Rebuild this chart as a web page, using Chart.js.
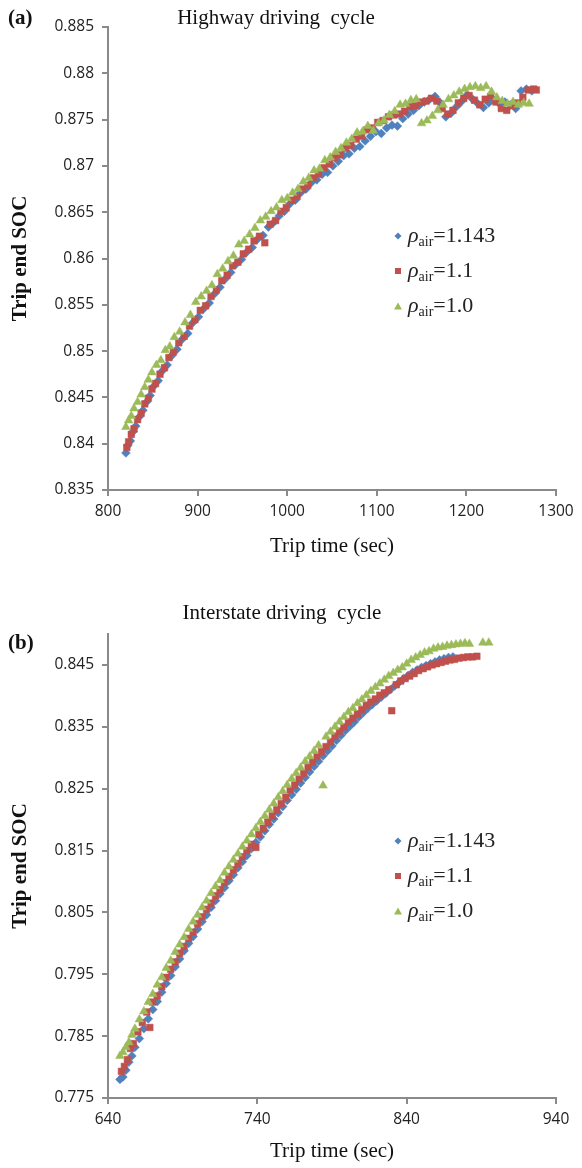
<!DOCTYPE html>
<html><head><meta charset="utf-8">
<script src="https://cdn.jsdelivr.net/npm/chart.js@4.4.0/dist/chart.umd.min.js"></script>
<style>
html,body{margin:0;padding:0;background:#fff;}
#wrap{position:relative;width:582px;height:1168px;overflow:hidden;background:#fff;}
canvas{position:absolute;left:0;}
.lbl{position:absolute;font-family:"Liberation Serif","DejaVu Serif",serif;color:#111;white-space:nowrap;line-height:1;}
.title{font-size:21px;transform:translate(-50%,-50%);}
.panel{font-weight:bold;font-size:21px;transform:translateY(-50%);}
.leg{position:absolute;font-family:"Liberation Serif",serif;font-size:22px;color:#222;white-space:nowrap;transform:translateY(-50%);line-height:1;}
.leg i{font-style:italic;}
.leg sub{font-size:14px;vertical-align:-4px;font-style:normal;}
.mk{position:absolute;transform:translate(-50%,-50%);}
.dia{width:5px;height:5px;background:#4F81BD;transform:translate(-50%,-50%) rotate(45deg);}
.sq{width:6px;height:6px;background:#C0504D;}
.tri{width:0;height:0;border-left:4px solid transparent;border-right:4px solid transparent;border-bottom:7px solid #9BBB59;}
</style>
</head><body>
<div id="wrap">
<canvas id="c1" width="582" height="584" style="top:0"></canvas>
<canvas id="c2" width="582" height="584" style="top:584px"></canvas>
<div class="lbl panel" style="left:8px;top:17px">(a)</div>
<div class="lbl title" style="left:276px;top:17px">Highway driving&nbsp; cycle</div>
<div class="lbl panel" style="left:8px;top:642px">(b)</div>
<div class="lbl title" style="left:282px;top:612px">Interstate driving&nbsp; cycle</div>
<div id="leg1"></div>
<div id="leg2"></div>
</div>
<script>
// ---------- data ----------
const seriesNames = ['1.143', '1.1', '1.0'];
const seriesColors = ['#4F81BD', '#C0504D', '#9BBB59'];

// (a) Highway driving cycle : [trip time (s), trip end SOC]
const hwBlue = [[820,.8390],[822,.8398],[825,.8403],[828,.8413],[831,.8419],[835,.8429],[839,.8436],[843,.8445],[847,.8452],[851,.8462],[856,.8468],[861,.8479],[866,.8485],[871,.8495],[877,.8502],[883,.8513],[889,.8519],[895,.8531],[901,.8537],[907,.8546],[913,.8552],[919,.8562],[925,.8569],[931,.8578],[937,.8585],[943,.8594],[949,.8599],[955,.8607],[961,.8612],[967,.8621],[973,.8625],[979,.8634],[985,.8639],[991,.8646],[997,.8651],[1003,.8659],[1009,.8663],[1015,.8671],[1021,.8675],[1027,.8682],[1033,.8685],[1039,.8691],[1045,.8693],[1051,.8700],[1057,.8705],[1063,.8711],[1069,.8713],[1075,.8719],[1081,.8721],[1087,.8727],[1093,.8732],[1099,.8737],[1105,.8735],[1111,.8741],[1117,.8744],[1123,.8743],[1129,.8751],[1135,.8756],[1141,.8760],[1147,.8765],[1153,.8769],[1159,.8772],[1165,.8775],[1171,.8768],[1177,.8753],[1183,.8757],[1189,.8764],[1195,.8770],[1201,.8777],[1207,.8772],[1213,.8767],[1219,.8763],[1225,.8768],[1231,.8771],[1237,.8767],[1243,.8769],[1249,.8766],[1255,.8762],[1261,.8781],[1267,.8783],[1273,.8781]];
const hwRed = [[821,.8396],[823,.8402],[826,.8410],[829,.8416],[833,.8426],[837,.8433],[841,.8443],[845,.8449],[849,.8459],[853,.8465],[858,.8475],[863,.8482],[868,.8493],[873,.8499],[879,.8509],[885,.8516],[891,.8527],[897,.8534],[903,.8544],[909,.8549],[915,.8559],[921,.8566],[927,.8576],[933,.8582],[939,.8592],[945,.8596],[951,.8605],[957,.8610],[963,.8619],[969,.8624],[975,.8617],[981,.8637],[987,.8641],[993,.8651],[999,.8655],[1005,.8663],[1011,.8667],[1017,.8675],[1023,.8679],[1029,.8687],[1035,.8691],[1041,.8698],[1047,.8702],[1053,.8709],[1059,.8712],[1065,.8719],[1071,.8722],[1077,.8729],[1083,.8732],[1089,.8739],[1095,.8741],[1101,.8747],[1107,.8749],[1113,.8753],[1119,.8755],[1125,.8756],[1131,.8759],[1137,.8764],[1143,.8765],[1149,.8769],[1155,.8770],[1161,.8773],[1167,.8770],[1173,.8762],[1179,.8756],[1185,.8760],[1191,.8768],[1197,.8773],[1203,.8776],[1209,.8771],[1215,.8766],[1221,.8772],[1227,.8775],[1233,.8769],[1239,.8762],[1245,.8760],[1251,.8765],[1257,.8768],[1263,.8774],[1269,.8782],[1275,.8783],[1278,.8782]];
const hwGreen = [[820,.8418],[823,.8425],[826,.8430],[829,.8438],[833,.8445],[837,.8453],[841,.8461],[845,.8469],[849,.8477],[854,.8485],[859,.8490],[864,.8501],[869,.8505],[874,.8515],[880,.8521],[886,.8531],[892,.8539],[898,.8553],[904,.8559],[910,.8565],[916,.8571],[922,.8583],[928,.8589],[934,.8597],[940,.8603],[946,.8615],[952,.8619],[958,.8626],[964,.8633],[970,.8641],[976,.8645],[982,.8651],[988,.8655],[994,.8663],[1000,.8665],[1006,.8671],[1012,.8675],[1018,.8683],[1024,.8687],[1030,.8695],[1036,.8697],[1042,.8706],[1048,.8709],[1054,.8715],[1060,.8719],[1066,.8725],[1072,.8729],[1078,.8736],[1084,.8737],[1090,.8743],[1096,.8738],[1102,.8746],[1108,.8749],[1114,.8755],[1120,.8759],[1126,.8766],[1132,.8767],[1138,.8771],[1144,.8772],[1150,.8746],[1156,.8749],[1162,.8754],[1168,.8760],[1174,.8766],[1180,.8772],[1186,.8776],[1192,.8780],[1198,.8783],[1204,.8785],[1210,.8786],[1216,.8784],[1222,.8786],[1228,.8780],[1234,.8774],[1240,.8770],[1246,.8767],[1252,.8769],[1258,.8766],[1264,.8768],[1270,.8767]];
const hwXTicks = [800, 900, 1000, 1100, 1200, 1300];
const hwXLabels = ['800', '900', '1000', '1100', '1200', '1300'];
const hwYTicks = [0.835, 0.84, 0.845, 0.85, 0.855, 0.86, 0.865, 0.87, 0.875, 0.88, 0.885];
const hwYLabels = ['0.835', '0.84', '0.845', '0.85', '0.855', '0.86', '0.865', '0.87', '0.875', '0.88', '0.885'];

// (b) Interstate driving cycle : [trip time (s), trip end SOC]
const isBlue = [[648,.7780],[650,.7784],[652,.7795],[654,.7808],[656,.7818],[658,.7832],[661,.7846],[664,.7862],[667,.7878],[670,.7893],[673,.7906],[676,.7921],[679,.7935],[682,.7948],[685,.7962],[688,.7975],[691,.7988],[694,.8000],[697,.8011],[700,.8023],[703,.8035],[706,.8046],[709,.8058],[712,.8069],[715,.8080],[718,.8090],[721,.8101],[724,.8111],[727,.8122],[730,.8132],[733,.8142],[736,.8153],[739,.8163],[742,.8172],[745,.8182],[748,.8192],[751,.8201],[754,.8211],[757,.8221],[760,.8231],[763,.8240],[766,.8249],[769,.8259],[772,.8268],[775,.8277],[778,.8286],[781,.8294],[784,.8303],[787,.8311],[790,.8319],[793,.8328],[796,.8336],[799,.8344],[802,.8351],[805,.8358],[808,.8366],[811,.8373],[814,.8380],[817,.8386],[820,.8392],[823,.8398],[826,.8404],[829,.8410],[832,.8416],[835,.8422],[838,.8428],[841,.8433],[844,.8438],[847,.8442],[850,.8446],[853,.8449],[856,.8452],[859,.8455],[862,.8458],[865,.8460],[868,.8462],[871,.8463]];
const isRed = [[649,.7793],[651,.7801],[653,.7812],[655,.7830],[657,.7838],[660,.7857],[663,.7872],[666,.7889],[668,.7864],[670,.7905],[673,.7915],[676,.7930],[679,.7945],[682,.7958],[685,.7970],[688,.7984],[691,.7995],[694,.8008],[697,.8018],[700,.8032],[703,.8043],[706,.8055],[709,.8065],[712,.8077],[715,.8087],[718,.8098],[721,.8108],[724,.8119],[727,.8129],[730,.8140],[733,.8150],[736,.8160],[739,.8155],[741,.8176],[744,.8186],[747,.8196],[750,.8206],[753,.8216],[756,.8226],[759,.8236],[762,.8248],[765,.8256],[768,.8266],[771,.8275],[774,.8285],[777,.8293],[780,.8302],[783,.8310],[786,.8318],[789,.8326],[792,.8335],[795,.8343],[798,.8350],[801,.8358],[804,.8364],[807,.8371],[810,.8378],[813,.8385],[816,.8390],[819,.8395],[822,.8401],[825,.8405],[828,.8410],[830,.8376],[833,.8418],[836,.8424],[839,.8428],[842,.8432],[845,.8436],[848,.8441],[851,.8444],[854,.8447],[857,.8450],[860,.8452],[863,.8454],[866,.8456],[869,.8458],[872,.8459],[875,.8461],[878,.8462],[881,.8463],[884,.8463],[887,.8464]];
const isGreen = [[648,.7818],[650,.7824],[652,.7832],[654,.7840],[656,.7852],[658,.7862],[661,.7877],[664,.7890],[667,.7905],[670,.7918],[673,.7933],[676,.7945],[679,.7960],[682,.7972],[685,.7986],[688,.7998],[691,.8010],[694,.8023],[697,.8035],[700,.8046],[703,.8058],[706,.8069],[709,.8081],[712,.8092],[715,.8102],[718,.8114],[721,.8124],[724,.8135],[727,.8145],[730,.8156],[733,.8166],[736,.8176],[739,.8186],[742,.8196],[745,.8206],[748,.8216],[751,.8226],[754,.8236],[757,.8246],[760,.8256],[763,.8266],[766,.8275],[769,.8284],[772,.8294],[775,.8302],[778,.8311],[781,.8320],[784,.8255],[786,.8334],[789,.8342],[792,.8350],[795,.8358],[798,.8366],[801,.8374],[804,.8380],[807,.8388],[810,.8394],[813,.8401],[816,.8408],[819,.8414],[822,.8420],[825,.8426],[828,.8432],[831,.8437],[834,.8442],[837,.8446],[840,.8452],[843,.8458],[846,.8462],[849,.8466],[852,.8470],[855,.8472],[858,.8476],[861,.8478],[864,.8479],[867,.8481],[870,.8482],[873,.8483],[876,.8484],[879,.8485],[882,.8484],[891,.8486],[895,.8486]];
const isXTicks = [640, 740, 840, 940];
const isXLabels = ['640', '740', '840', '940'];
const isYTicks = [0.775, 0.785, 0.795, 0.805, 0.815, 0.825, 0.835, 0.845];
const isYLabels = ['0.775', '0.785', '0.795', '0.805', '0.815', '0.825', '0.835', '0.845'];

// ---------- chart ----------
const AX = '#8a8a8a';
const styles = ['rectRot', 'rect', 'triangle'];
const radii = [4.4, 4.7, 5];
function toPts(a){ return a.map(p => ({x:p[0], y:p[1]})); }
function makeChart(id, series, xr, yr, xT, xL, yT, yL, padTop, xH, xTitlePad){
  const datasets = series.map((s,i) => ({
    data: toPts(s), pointStyle: styles[i], pointRadius: radii[i],
    backgroundColor: seriesColors[i], borderColor: seriesColors[i], borderWidth: 0.5,
    order: 3 - i, showLine: false
  }));
  return new Chart(document.getElementById(id), {
    type: 'scatter',
    data: { datasets },
    options: {
      responsive: false, animation: false, devicePixelRatio: 1,
      layout: { padding: { top: padTop, right: 26, left: 0, bottom: 0 } },
      plugins: { legend: { display: false }, tooltip: { enabled: false } },
      scales: {
        x: {
          type: 'linear', min: xr[0], max: xr[1],
          afterBuildTicks: s => { s.ticks = xT.map(v => ({ value: v })); },
          afterFit: s => { s.height = xH; },
          grid: { drawOnChartArea: false, drawTicks: true, tickLength: 6, color: AX, lineWidth: 2 },
          border: { color: AX, width: 2 },
          ticks: { font: { family: 'Open Sans', size: 15.5 }, color: '#222', padding: 6, maxRotation: 0, callback: (v, i) => xL[i] },
          title: { display: true, text: 'Trip time (sec)', font: { family: 'Liberation Serif', size: 21 }, color: '#111', padding: { top: 0, bottom: xTitlePad } }
        },
        y: {
          type: 'linear', min: yr[0], max: yr[1],
          afterBuildTicks: s => { s.ticks = yT.map(v => ({ value: v })); },
          afterFit: s => { s.width = 108; },
          grid: { drawOnChartArea: false, drawTicks: true, tickLength: 6, color: AX, lineWidth: 2 },
          border: { color: AX, width: 2 },
          ticks: { font: { family: 'Open Sans', size: 15.5 }, color: '#222', padding: 8, callback: (v, i) => yL[i] },
          title: { display: true, text: 'Trip end SOC', font: { family: 'Liberation Serif', size: 21, weight: 'bold' }, color: '#111', padding: { top: 8, bottom: 0 } }
        }
      }
    }
  });
}
makeChart('c1', [hwBlue, hwRed, hwGreen], [800, 1300], [0.835, 0.885], hwXTicks, hwXLabels, hwYTicks, hwYLabels, 27, 94, 25);
makeChart('c2', [isBlue, isRed, isGreen], [640, 940], [0.775, 0.85], isXTicks, isXLabels, isYTicks, isYLabels, 50, 70, 4);

// ---------- legends ----------
const mkCls = ['dia', 'sq', 'tri'];
function makeLegend(el, rows){
  let h = '';
  seriesNames.forEach((n, i) => {
    h += '<div class="mk ' + mkCls[i] + '" style="left:398px;top:' + rows[i] + 'px"></div>';
    h += '<div class="leg" style="left:408px;top:' + rows[i] + 'px"><i>&rho;</i><sub>air</sub>=' + n + '</div>';
  });
  el.innerHTML = h;
}
makeLegend(document.getElementById('leg1'), [236, 271, 306]);
makeLegend(document.getElementById('leg2'), [841, 876, 911]);
</script>
</body></html>
